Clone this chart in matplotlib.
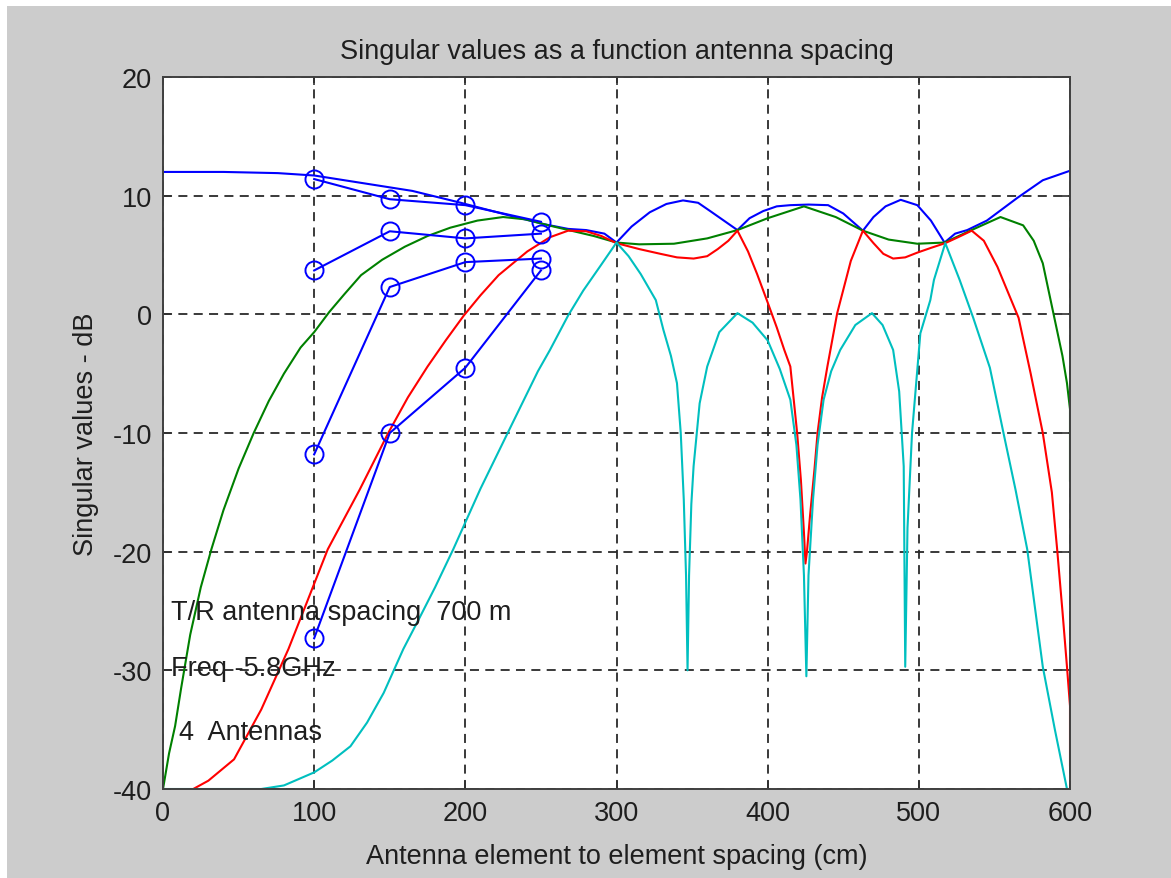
import numpy as np
import matplotlib
matplotlib.use('Agg')
import matplotlib.pyplot as plt
from matplotlib.patches import Rectangle

plt.rcParams['font.family'] = ['Liberation Sans', 'DejaVu Sans']
plt.rcParams['axes.unicode_minus'] = False

# singular value curves (dB) vs element spacing (cm)
blue_x = [0, 40, 76, 100, 130, 165, 197, 230, 252, 268, 280, 292, 300, 310, 322, 333, 344,
          354, 362, 371, 380, 388, 397, 406, 415, 427, 440, 450, 463, 470, 478, 488, 499,
          508, 517, 524, 532, 545, 565, 582, 600]
blue_y = [12.0, 12.0, 11.9, 11.7, 11.1, 10.4, 9.4, 8.3, 7.6, 7.2, 7.1, 6.8, 6.05, 7.4, 8.6,
          9.3, 9.6, 9.4, 8.7, 7.9, 7.1, 8.1, 8.7, 9.1, 9.2, 9.25, 9.2, 8.5, 7.05, 8.2, 9.1,
          9.65, 9.2, 7.9, 6.05, 6.8, 7.1, 7.9, 9.8, 11.3, 12.1]

green_x = [0, 4, 8, 12, 18, 25, 32, 40, 50, 60, 70, 80, 91, 100, 110, 120, 131, 145, 160,
           175, 190, 208, 225, 240, 255, 270, 285, 300, 315, 338, 360, 380, 400, 424, 445,
           463, 480, 499, 517, 534, 554, 569, 576, 582, 589, 595, 598, 600, 600]
green_y = [-40, -37, -34.7, -31.5, -27, -23, -19.8, -16.5, -13, -10, -7.3, -5, -2.8, -1.5,
           0.2, 1.7, 3.3, 4.6, 5.7, 6.6, 7.3, 7.9, 8.2, 8.0, 7.5, 7.05, 6.6, 6.05, 5.9,
           5.95, 6.4, 7.1, 8.1, 9.1, 8.2, 7.05, 6.3, 5.95, 6.05, 7.05, 8.2, 7.5, 6.2, 4.3,
           0.1, -3.5, -5.8, -8, -14]

red_x = [20, 30, 47, 65, 83, 96, 109, 130, 149, 162, 175, 187, 199, 210, 222, 241, 256, 268,
         280, 290, 300, 315, 329, 340, 351, 360, 367, 374, 380, 387, 393, 400, 406, 411, 415,
         419.5, 422, 424, 425, 426, 428, 431, 433, 436, 439.5, 446, 455, 463, 470, 476.5,
         483, 491, 499, 508, 517.5, 526, 535, 543, 552, 566, 574, 582, 588, 591.5, 595, 598,
         600, 600]
red_y = [-40, -39.3, -37.5, -33.3, -28.2, -24, -19.8, -14.8, -10, -7, -4.4, -2.2, -0.1, 1.6,
         3.3, 5.3, 6.5, 7.05, 7.0, 6.6, 6.0, 5.5, 5.1, 4.8, 4.7, 4.9, 5.5, 6.2, 7.05, 5.3,
         3.4, 1.0, -1.1, -3, -4.4, -10, -14, -18.4, -21, -20, -17, -13, -10, -7, -4.4, 0.1,
         4.5, 7.05, 6.0, 5.1, 4.7, 4.8, 5.2, 5.6, 6.0, 6.5, 7.05, 6.2, 4.0, -0.3, -5, -10,
         -15, -19.8, -25, -29.7, -33, -38]

cyan_x = [0, 65, 80, 100, 112, 124, 135, 146, 159, 170, 180, 192, 210, 228, 248, 256, 268,
          278, 290, 300, 308, 316, 326, 331, 336, 340, 342.5, 344.5, 346, 347, 348, 349.5,
          351, 355, 360, 368, 380, 390, 400, 408, 415, 419, 421.7, 424, 425.6, 427, 430, 433,
          437, 442, 448, 458, 469, 476, 483, 487, 490, 491, 492.5, 495.5, 501, 507.6, 510,
          517.5, 527, 536, 547, 556, 564, 571.7, 582, 590, 598, 600]
cyan_y = [-40, -40, -39.7, -38.6, -37.6, -36.4, -34.4, -31.9, -28.2, -25.5, -23, -19.8,
          -14.7, -10, -4.8, -3, -0.1, 2, 4.2, 6.05, 4.9, 3.4, 1.2, -1.3, -3.5, -5.8, -10,
          -15.6, -22, -30, -22, -16, -12.8, -7.5, -4.4, -1.5, 0.1, -0.7, -2.2, -4.6, -7.2,
          -11, -15.6, -22, -30.5, -22, -15.6, -11, -7.2, -4.8, -3, -0.9, 0.1, -0.9, -3,
          -6.5, -12.8, -29.7, -18, -10, -1.6, 1.2, 2.9, 6.0, 2.9, -0.3, -4.5, -10, -14.8,
          -19.8, -29.7, -35, -40, -40]

# measured points (blue with markers)
meas_x = [100, 150, 200, 250]
sv1 = [11.4, 9.7, 9.2, 7.8]
sv2 = [3.7, 7.0, 6.4, 6.8]
sv3 = [-11.8, 2.3, 4.4, 4.7]
sv4 = [-27.3, -10.0, -4.5, 3.7]

txt_col = '#1e1e1e'
fs = 19.5

fig = plt.figure(figsize=(11.71, 8.79), dpi=100, facecolor='white')
# gray figure background with thin white strip at top/left
fig.patches.append(Rectangle((7 / 1171, 0), 1, 1 - 7 / 879, transform=fig.transFigure,
                             facecolor='#cccccc', edgecolor='none', zorder=-10))

ax = fig.add_axes([163 / 1171, 1 - 790 / 879, (1070 - 163) / 1171, (790 - 78) / 879])
ax.set_facecolor('white')

lw = 1.5
ax.plot(blue_x, blue_y, color='#0000ff', lw=lw)
ax.plot(green_x, green_y, color='#008000', lw=lw)
ax.plot(red_x, red_y, color='#ff0000', lw=lw)
ax.plot(cyan_x, cyan_y, color='#00bfbf', lw=lw)

for sv in (sv1, sv2, sv3, sv4):
    ax.plot(meas_x, sv, color='#0000ff', lw=lw, marker='o', ms=13, mfc='none', mew=1.4)

ax.set_xlim(0, 600)
ax.set_ylim(-40, 20)
ax.set_xticks(np.arange(0, 601, 100))
ax.set_yticks(np.arange(-40, 21, 10))
ax.grid(True, color='#2a2a2a', linestyle=(0, (5, 3.5)), linewidth=1.3)
ax.tick_params(direction='in', length=6, width=1.2, top=True, right=True,
               labelsize=fs, colors='#303030', labelcolor=txt_col, pad=8)
for s in ax.spines.values():
    s.set_color('#404040')
    s.set_linewidth(1.4)

ax.set_title('Singular values as a function antenna spacing', fontsize=fs, color=txt_col, pad=14)
ax.set_xlabel('Antenna element to element spacing (cm)', fontsize=fs, color=txt_col, labelpad=12)
ax.set_ylabel('Singular values - dB', fontsize=fs, color=txt_col, labelpad=10)

ax.text(5, -25.1, 'T/R antenna spacing  700 m', fontsize=fs, color=txt_col, va='center')
ax.text(5, -29.8, 'Freq -5.8GHz', fontsize=fs, color=txt_col, va='center')
ax.text(10.5, -35.2, '4  Antennas', fontsize=fs, color=txt_col, va='center')

fig.savefig('out.png', dpi=100, facecolor=fig.get_facecolor())
